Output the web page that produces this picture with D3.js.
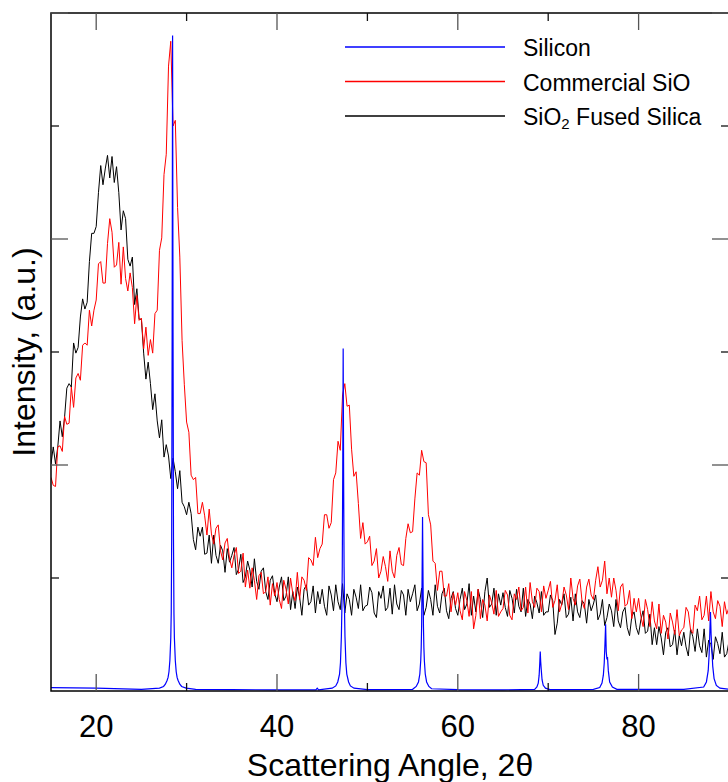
<!DOCTYPE html>
<html>
<head>
<meta charset="utf-8">
<script src="https://cdn.jsdelivr.net/npm/d3@7"></script>
<style>
    body { margin: 0; background: #fff; }
    svg { display: block; font-family: Arial, "Liberation Sans", sans-serif; }
</style>
</head>
<body>
<svg id="chart"></svg>
<script>
// sampling grid of the two amorphous patterns (degrees 2theta)
var angleStart = 15
var angleStep = 0.25

// SiO2 fused silica, 15..90 deg every 0.25
var fusedSilica = [
    201, 216, 201, 216, 239, 225, 242, 268, 272, 269, 308, 299, 304, 331, 347, 338, 344, 380, 405, 405,
    411, 441, 465, 448, 462, 474, 454, 473, 450, 464, 441, 408, 425, 418, 382, 376, 384, 342, 356, 329,
    329, 299, 276, 291, 272, 249, 263, 239, 224, 240, 207, 218, 208, 188, 206, 194, 179, 195, 167, 163,
    156, 167, 157, 134, 125, 145, 137, 145, 121, 122, 138, 113, 138, 120, 113, 129, 124, 105, 126, 114,
    120, 127, 103, 108, 121, 96, 101, 115, 107, 92, 117, 97, 90, 106, 109, 88, 81, 98, 102, 86,
    79, 92, 101, 80, 84, 101, 72, 88, 73, 92, 83, 67, 90, 94, 76, 79, 93, 69, 88, 77,
    90, 75, 67, 93, 85, 71, 94, 79, 72, 95, 69, 86, 81, 67, 90, 83, 73, 94, 71, 75,
    76, 92, 87, 69, 65, 88, 82, 93, 71, 74, 91, 68, 94, 77, 72, 89, 85, 67, 90, 79,
    86, 94, 71, 77, 91, 67, 74, 89, 81, 67, 94, 75, 69, 86, 91, 71, 64, 82, 88, 73,
    67, 81, 91, 72, 77, 95, 67, 84, 70, 90, 81, 65, 88, 100, 74, 77, 91, 67, 86, 76,
    87, 74, 66, 89, 82, 69, 90, 75, 70, 91, 66, 81, 77, 64, 84, 78, 69, 88, 67, 70,
    70, 85, 80, 50, 60, 81, 76, 86, 65, 68, 83, 62, 86, 70, 65, 80, 77, 60, 81, 71,
    77, 85, 63, 68, 81, 58, 65, 77, 71, 57, 81, 62, 56, 70, 74, 56, 49, 66, 70, 56,
    50, 63, 71, 51, 53, 68, 41, 56, 41, 57, 47, 32, 52, 56, 39, 41, 54, 32, 49, 40,
    52, 39, 31, 55, 48, 35, 55, 40, 34, 55, 30, 45, 41, 28, 48, 42, 33, 52, 30, 33, 44
]

// commercial SiO, same grid
var commercialSiO = [
    189, 182, 181, 216, 217, 212, 243, 236, 237, 269, 251, 277, 281, 275, 306, 308, 306, 337, 323, 337,
    346, 378, 380, 361, 361, 396, 418, 406, 375, 377, 397, 360, 393, 365, 354, 370, 357, 325, 350, 328,
    330, 303, 322, 297, 311, 299, 334, 337, 390, 401, 457, 475, 553, 575, 500, 505, 428, 384, 310, 271,
    238, 229, 191, 187, 189, 157, 157, 167, 155, 138, 161, 139, 130, 144, 147, 124, 116, 131, 135, 117,
    109, 120, 127, 104, 106, 122, 92, 107, 91, 109, 98, 81, 102, 105, 86, 88, 101, 76, 95, 84,
    96, 81, 73, 98, 90, 77, 100, 86, 80, 105, 81, 101, 98, 89, 118, 116, 111, 136, 118, 126,
    130, 156, 156, 144, 149, 187, 193, 221, 213, 262, 272, 252, 253, 214, 190, 194, 166, 135, 149, 130,
    132, 137, 111, 115, 126, 100, 106, 119, 110, 97, 124, 106, 100, 120, 127, 112, 111, 135, 148, 140,
    141, 170, 193, 191, 213, 203, 202, 156, 147, 115, 113, 89, 106, 106, 84, 84, 95, 70, 87, 76,
    87, 71, 63, 88, 80, 66, 88, 55, 67, 90, 64, 81, 76, 62, 85, 78, 68, 89, 66, 70,
    73, 89, 85, 67, 63, 86, 81, 92, 71, 74, 92, 69, 96, 79, 74, 91, 88, 70, 93, 82,
    89, 97, 74, 80, 94, 70, 77, 92, 85, 72, 100, 82, 76, 93, 99, 79, 73, 92, 99, 85,
    81, 98, 110, 92, 98, 115, 86, 100, 83, 100, 89, 71, 92, 95, 75, 77, 89, 64, 82, 70,
    82, 66, 57, 81, 72, 57, 79, 62, 55, 77, 51, 67, 61, 46, 69, 61, 50, 72, 49, 54,
    56, 74, 70, 54, 51, 76, 71, 84, 63, 67, 84, 62, 88, 70, 64, 80, 75, 57, 79, 68, 74
]

// silicon, [angle, intensity]
var silicon = [
    [15, 3], [20, 2.5], [25, 1.5], [27.0, 2.5], [27.45, 4], [27.65, 6], [27.85, 9.5], [27.95, 12],
    [28.05, 17], [28.15, 27], [28.25, 47], [28.3, 69], [28.35, 134], [28.4, 317], [28.45, 580],
    [28.5, 317], [28.55, 134], [28.6, 69], [28.65, 47], [28.75, 27], [28.85, 17], [28.95, 12],
    [29.05, 9.5], [29.25, 6], [29.45, 4], [29.95, 2.5], [31, 1.5], [35, 1.2], [40, 1], [44.3, 1],
    [44.45, 2.5], [44.6, 1], [46.1, 2.5], [46.5, 4.5], [46.72, 8], [46.92, 15], [47.02, 25],
    [47.12, 48], [47.17, 70], [47.22, 110], [47.27, 190], [47.32, 303], [47.37, 190], [47.42, 110],
    [47.47, 70], [47.52, 48], [47.62, 25], [47.72, 15], [47.92, 8], [48.12, 4.5], [48.52, 2.5],
    [50, 1.2], [55, 1.5], [55.4, 4], [55.65, 8], [55.8, 15], [55.9, 27], [55.95, 38], [56.0, 58],
    [56.05, 102], [56.1, 154], [56.15, 102], [56.2, 58], [56.25, 38], [56.3, 27], [56.4, 15],
    [56.55, 8], [56.8, 4], [57.1, 2], [60, 1.2], [65, 1], [68.5, 1.5], [68.75, 3.5], [68.9, 7],
    [69.0, 14], [69.07, 25], [69.12, 35], [69.17, 26], [69.22, 20], [69.32, 10], [69.45, 5],
    [69.7, 2.5], [70.2, 1.2], [75, 1.5], [75.7, 3], [75.95, 7], [76.1, 14], [76.2, 25], [76.28, 42],
    [76.35, 59], [76.42, 35], [76.5, 28], [76.56, 30], [76.65, 18], [76.8, 8], [77.1, 3.5],
    [77.6, 1.5], [85, 1.5], [87.2, 3.5], [87.5, 8], [87.7, 18], [87.8, 32], [87.88, 52], [87.95, 70],
    [88.02, 50], [88.1, 38], [88.2, 22], [88.35, 11], [88.6, 5], [89.0, 2.5], [90, 1.5]
]

var xMajorTicks = [20, 40, 60, 80]
var xMinorTicks = [30, 50, 70, 90]
var yMajorTicks = [200, 400, 600]
var yMinorTicks = [100, 300, 500]

var legendNames = ["Silicon", "Commercial SiO", "SiO2 Fused Silica"]
var legendColors = ["#0000ff", "#ff0000", "#000000"]

var dimensions = {
    width: 728,
    height: 782,
    margin: { top: 13, bottom: 91, left: 51, right: -1 }
}

var svg = d3.select("#chart")
    .attr("width", dimensions.width)
    .attr("height", dimensions.height)

var xScale = d3.scaleLinear()
    .domain([15, 90])
    .range([dimensions.margin.left, dimensions.width - dimensions.margin.right])

var yScale = d3.scaleLinear()
    .domain([0, 600])
    .range([dimensions.height - dimensions.margin.bottom, dimensions.margin.top])

var plotLeft = xScale.range()[0]
var plotRight = xScale.range()[1]
var plotTop = yScale.range()[1]
var plotBottom = yScale.range()[0]

svg.append("clipPath").attr("id", "plotClip")
    .append("rect")
    .attr("x", plotLeft)
    .attr("y", plotTop - 2)
    .attr("width", plotRight - plotLeft)
    .attr("height", plotBottom - plotTop + 2)

var gridLine = d3.line()
    .x((d, i) => xScale(angleStart + i * angleStep))
    .y(d => yScale(d))

var pairLine = d3.line()
    .x(d => xScale(d[0]))
    .y(d => yScale(d[1]))

var plot = svg.append("g").attr("clip-path", "url(#plotClip)")

plot.append("path")
    .datum(fusedSilica)
    .attr("d", gridLine)
    .attr("fill", "none")
    .attr("stroke", legendColors[2])
    .attr("stroke-width", 1)

plot.append("path")
    .datum(commercialSiO)
    .attr("d", gridLine)
    .attr("fill", "none")
    .attr("stroke", legendColors[1])
    .attr("stroke-width", 1)

plot.append("path")
    .datum(silicon)
    .attr("d", pairLine)
    .attr("fill", "none")
    .attr("stroke", legendColors[0])
    .attr("stroke-width", 1.2)

// frame
svg.append("rect")
    .attr("x", plotLeft)
    .attr("y", plotTop)
    .attr("width", plotRight - plotLeft)
    .attr("height", plotBottom - plotTop)
    .attr("fill", "none")
    .attr("stroke", "black")
    .attr("stroke-width", 1.5)

// inward ticks on all four sides
function drawXTicks(values, len, color) {
    values.forEach(function (v) {
        svg.append("line")
            .attr("x1", xScale(v)).attr("x2", xScale(v))
            .attr("y1", plotBottom).attr("y2", plotBottom - len)
            .attr("stroke", color).attr("stroke-width", 1.3)
        svg.append("line")
            .attr("x1", xScale(v)).attr("x2", xScale(v))
            .attr("y1", plotTop).attr("y2", plotTop + len)
            .attr("stroke", color).attr("stroke-width", 1.3)
    })
}
function drawYTicks(values, len, color) {
    values.forEach(function (v) {
        svg.append("line")
            .attr("x1", plotLeft).attr("x2", plotLeft + len)
            .attr("y1", yScale(v)).attr("y2", yScale(v))
            .attr("stroke", color).attr("stroke-width", 1.3)
        svg.append("line")
            .attr("x1", plotRight).attr("x2", plotRight - len)
            .attr("y1", yScale(v)).attr("y2", yScale(v))
            .attr("stroke", color).attr("stroke-width", 1.3)
    })
}
drawXTicks(xMajorTicks, 17, "#555")
drawXTicks(xMinorTicks, 8, "#111")
drawYTicks(yMajorTicks, 17, "#555")
drawYTicks(yMinorTicks, 8, "#111")

svg.append("g")
    .selectAll("text")
    .data(xMajorTicks)
    .enter()
    .append("text")
    .attr("x", d => xScale(d))
    .attr("y", 737)
    .attr("text-anchor", "middle")
    .attr("font-size", "31px")
    .text(d => d)

svg.append("text")
    .attr("x", (plotLeft + plotRight) / 2)
    .attr("y", 776)
    .attr("text-anchor", "middle")
    .attr("font-size", "32px")
    .text("Scattering Angle, 2\u03b8")

svg.append("text")
    .attr("transform", "translate(35," + ((plotTop + plotBottom) / 2) + ") rotate(-90)")
    .attr("text-anchor", "middle")
    .attr("font-size", "32px")
    .text("Intensity, (a.u.)")

// legend
var legend = svg.append("g")
legendNames.forEach(function (name, i) {
    var y = 47 + i * 34.5
    legend.append("line")
        .attr("x1", 345).attr("x2", 505)
        .attr("y1", y).attr("y2", y)
        .attr("stroke", legendColors[i])
        .attr("stroke-width", 1.6)
    var t = legend.append("text")
        .attr("x", 523)
        .attr("y", y + 9)
        .attr("font-size", "23px")
    if (name.indexOf("SiO2") === 0) {
        t.append("tspan").text("SiO")
        t.append("tspan").attr("font-size", "15px").attr("dy", 4).text("2")
        t.append("tspan").attr("dy", -4).text(" Fused Silica")
    } else {
        t.text(name)
    }
})
</script>
</body>
</html>
